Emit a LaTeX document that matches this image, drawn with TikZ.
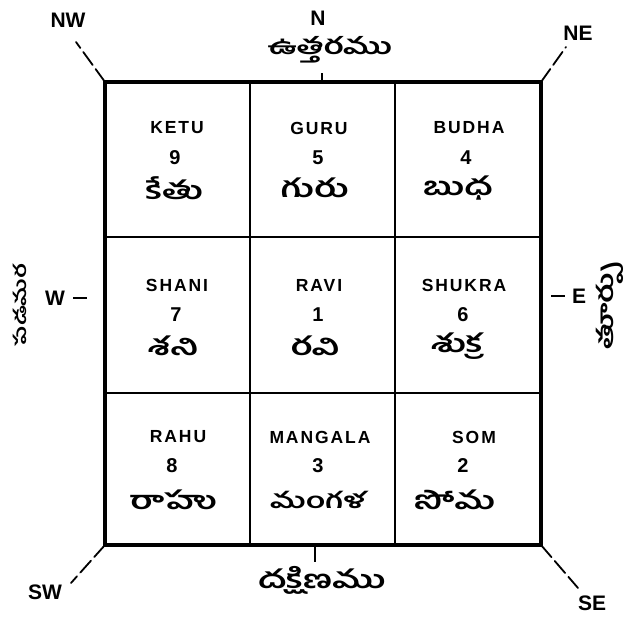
\documentclass[tikz,border=0pt]{standalone}
\usepackage{fontspec}
\setmainfont{Liberation Sans}
\newfontfamily\telfont[Script=Telugu, FakeStretch=1.45]{Hind Guntur}
\newfontfamily\capsfont[LetterSpace=11]{Liberation Sans}

\begin{document}
\begin{tikzpicture}[x=1pt, y=-1pt,
  grah/.style={font=\capsfont\bfseries\fontsize{17.5}{17.5}\selectfont, inner sep=0pt},
  ank/.style={font=\bfseries\fontsize{20}{20}\selectfont, inner sep=0pt},
  tel/.style={font=\telfont\bfseries\fontsize{25}{25}\selectfont, inner sep=0pt},
  dik/.style={font=\bfseries\fontsize{21}{21}\selectfont, inner sep=0pt},
  konam/.style={line width=1.8pt, dash pattern=on 16pt off 5pt, line cap=round},
  tick/.style={line width=2.6pt}
]
  \useasboundingbox (0,0) rectangle (634,621);

  % Grid corners
  \coordinate (nwc) at (105,82);
  \coordinate (nec) at (541,82);
  \coordinate (swc) at (105,545);
  \coordinate (sec) at (541,545);

  % Grid
  \draw[line width=3.6pt] (nwc) rectangle (sec);
  \draw[line width=2pt] (250,82) -- (250,545) (395,82) -- (395,545)
                        (105,237) -- (541,237) (105,393) -- (541,393);

  % Top row
  \node[grah] (ketu) at (177,128) {KETU};
  \node[ank]  (ketun) at (175,158) {9};
  \node[tel]  (ketut) at (174,188) {కేతు};
  \node[grah] (guru) at (319,128) {GURU};
  \node[ank]  (gurun) at (318,158) {5};
  \node[tel]  (gurut) at (315,188) {గురు};
  \node[grah] (budha) at (469,128) {BUDHA};
  \node[ank]  (budhan) at (466,158) {4};
  \node[tel]  (budhat) at (458,188) {బుధ};

  % Middle row
  \node[grah] (shani) at (177,285) {SHANI};
  \node[ank]  (shanin) at (176,315) {7};
  \node[tel]  (shanit) at (173,346) {శని};
  \node[grah] (ravi) at (319,285) {RAVI};
  \node[ank]  (ravin) at (318,315) {1};
  \node[tel]  (ravit) at (315,346) {రవి};
  \node[grah] (shukra) at (464,285) {SHUKRA};
  \node[ank]  (shukran) at (463,315) {6};
  \node[tel]  (shukrat) at (457,346) {శుక్ర};

  % Bottom row
  \node[grah] (rahu) at (178,437) {RAHU};
  \node[ank]  (rahun) at (172,466) {8};
  \node[tel]  (rahut) at (173,500) {రాహు};
  \node[grah] (mangala) at (320,437) {MANGALA};
  \node[ank]  (mangalan) at (318,466) {3};
  \node[tel, font=\telfont\bfseries\fontsize{22}{22}\selectfont] (mangalat) at (318,500) {మంగళ};
  \node[grah] (som) at (474,437) {SOM};
  \node[ank]  (somn) at (463,466) {2};
  \node[tel]  (somt) at (455,500) {సోమ};

  % Directions
  \node[dik] (n) at (318,18) {N};
  \node[tel, font=\telfont\bfseries\fontsize{23}{23}\selectfont] (nt) at (330,50) {ఉత్తరము};
  \node[tel] (st) at (322,580) {దక్షిణము};
  \node[dik] (w) at (55,298) {W};
  \node[tel, rotate=90, font=\telfont\bfseries\fontsize{17}{17}\selectfont] (wt) at (20,305) {పడమర};
  \node[dik] (e) at (579,296) {E};
  \node[tel, rotate=90, font=\telfont\bfseries\fontsize{22}{22}\selectfont] (et) at (610,306) {తూర్పు};
  \node[dik] (nw) at (68,20) {NW};
  \node[dik] (ne) at (578,33) {NE};
  \node[dik] (sw) at (45,592) {SW};
  \node[dik] (se) at (592,603) {SE};

  % Ticks
  \coordinate (nte) at (322,73);
  \coordinate (ste) at (315,562);
  \draw[tick] (322,82) -- (nte);
  \draw[tick] (315,545) -- (ste);
  \draw[tick] (w.east) ++(8,0) coordinate (wa) -- ++(14,0);
  \draw[tick] (e.west) ++(-7,0) coordinate (ea) -- ++(-14,0);

  % Corner lines
  \coordinate (nwe) at (76,42);
  \coordinate (nee) at (566,47);
  \coordinate (swe) at (71,583);
  \coordinate (see) at (578,588);
  \foreach \c in {nw,ne,sw,se} \draw[konam] (\c c) -- (\c e);
\end{tikzpicture}
\end{document}
